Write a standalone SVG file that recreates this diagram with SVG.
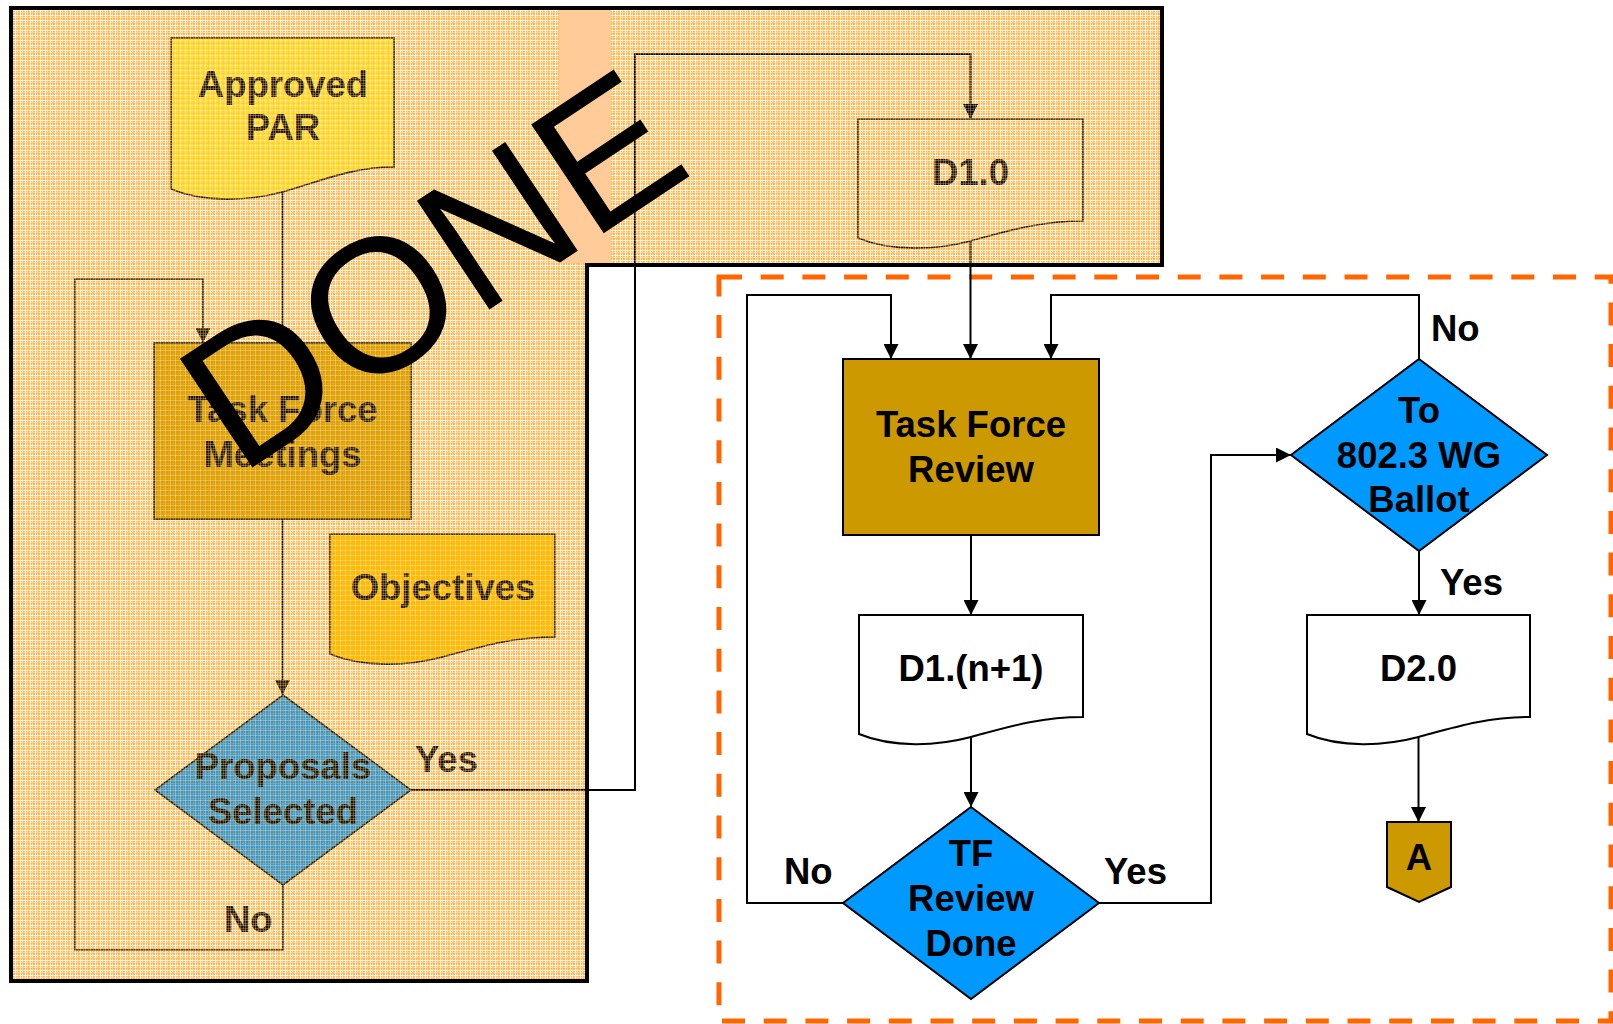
<svg xmlns="http://www.w3.org/2000/svg" width="1613" height="1024" viewBox="0 0 1613 1024">
<defs>
<style>
text{font-family:"Liberation Sans",Arial,sans-serif;font-weight:bold;font-size:36.5px;text-anchor:middle}
.lt{fill:#1f1400}
.rt{fill:#000}
.st{text-anchor:start}
.lc{fill:none;stroke:#2a1c00;stroke-width:1.6}
.rc{fill:none;stroke:#000;stroke-width:2}
.ln{stroke:#2a1c00;stroke-width:1.6}
.rn{stroke:#000;stroke-width:2}
.done{font-weight:normal;font-size:190px;text-anchor:start;fill:#000}
</style>
<pattern id="plaid" width="5" height="5" patternUnits="userSpaceOnUse">
<rect width="5" height="5" fill="#FFBB55"/>
<rect x="2" width="1" height="5" fill="#FFD9A0"/>
<rect y="2" width="5" height="1" fill="#FFD9A0"/>
<rect width="1" height="5" fill="#FFFFFF" opacity="0.8"/>
<rect width="5" height="1" fill="#FFFFFF" opacity="0.8"/>
</pattern>
<pattern id="veil" width="5" height="5" patternUnits="userSpaceOnUse">
<rect width="1" height="5" fill="#FFFFFF" opacity="0.3"/>
<rect width="5" height="1" fill="#FFFFFF" opacity="0.3"/>
<rect x="3" width="1" height="5" fill="#FFB347" opacity="0.3"/>
<rect y="3" width="5" height="1" fill="#FFB347" opacity="0.3"/>
</pattern>
<marker id="arr" viewBox="0 0 15 15" markerWidth="15" markerHeight="15" refX="15" refY="7.5" orient="auto" markerUnits="userSpaceOnUse"><path d="M0,0 L15,7.5 L0,15 Z" fill="#000"/></marker>
<marker id="arrl" viewBox="0 0 15 15" markerWidth="15" markerHeight="15" refX="15" refY="7.5" orient="auto" markerUnits="userSpaceOnUse"><path d="M0,0 L15,7.5 L0,15 Z" fill="#2a1c00"/></marker>
</defs>

<rect width="1613" height="1024" fill="#FFFFFF"/>

<!-- completed-phase panel background -->
<path id="panel-bg" d="M11,8 H1162 V265 H587 V981 H11 Z" fill="url(#plaid)"/>

<!-- dashed boundary of current phase -->
<rect id="current-phase" x="719" y="277" width="892" height="744" fill="none" stroke="#FF6600" stroke-width="5" stroke-dasharray="23 18.7"/>

<g id="connectors">
<path class="lc" d="M282.5,192 V343" marker-end="url(#arrl)"/>
<path class="lc" d="M282.5,519 V695" marker-end="url(#arrl)"/>
<path class="lc" d="M283,885 V950 H75 V279 H203 V343" marker-end="url(#arrl)"/>
<path class="rc" d="M411,790 H635 V54 H970.5 V119" marker-end="url(#arr)"/>
<path class="rc" d="M970.5,241 V359" marker-end="url(#arr)"/>
<path class="rc" d="M971,535 V615" marker-end="url(#arr)"/>
<path class="rc" d="M971,737 V807" marker-end="url(#arr)"/>
<path class="rc" d="M843,903 H747 V295 H891 V359" marker-end="url(#arr)"/>
<path class="rc" d="M1099,903 H1211 V455 H1291" marker-end="url(#arr)"/>
<path class="rc" d="M1419,359 V295 H1051 V359" marker-end="url(#arr)"/>
<path class="rc" d="M1419,551 V615" marker-end="url(#arr)"/>
<path class="rc" d="M1418.5,737 V822" marker-end="url(#arr)"/>
<text class="lt st" x="415" y="772">Yes</text>
<text class="lt st" x="224" y="932">No</text>
<text class="rt st" x="784" y="884">No</text>
<text class="rt st" x="1104" y="884">Yes</text>
<text class="rt st" x="1431" y="341">No</text>
<text class="rt st" x="1440" y="595">Yes</text>
</g>

<g id="approved-par">
<path class="ln" d="M171,38 H394 V167 C349.4,167 316,183 282.5,192 C249,201 204.5,203 171,189 Z" fill="#FFDD33"/>
<text class="lt" x="283" y="97">Approved</text>
<text class="lt" x="283" y="140">PAR</text>
</g>

<g id="tf-meetings">
<rect class="ln" x="154" y="343" width="257" height="176" fill="#DB9F00"/>
<text class="lt" x="282.5" y="422">Task Force</text>
<text class="lt" x="282.5" y="467">Meetings</text>
</g>

<g id="objectives">
<path class="ln" d="M330,534 H555 V637 C510,637 476.25,648 442.5,657 C408.75,666 363.75,668 330,654 Z" fill="#FFBB00"/>
<text class="lt" x="443" y="600">Objectives</text>
</g>

<g id="proposals-selected">
<path class="ln" d="M283,695 L411,790 L283,885 L155,790 Z" fill="#3A97C8"/>
<text class="lt" x="283" y="779">Proposals</text>
<text class="lt" x="283" y="824">Selected</text>
</g>

<g id="d1-0">
<path class="ln" d="M858,119 H1083 V221 C1038,221 1004.25,232 970.5,241 C936.75,250 891.75,252 858,238 Z" fill="none"/>
<text class="lt" x="970.5" y="185">D1.0</text>
</g>

<!-- texture veil over completed phase -->
<path id="panel-veil" d="M11,8 H1162 V265 H587 V981 H11 Z" fill="url(#veil)"/>
<rect id="peach-band" x="559" y="10" width="52" height="253" fill="#FFCC99"/>
<text id="done-stamp" class="done" transform="translate(239.5,476.3) rotate(-33.7)">DONE</text>
<path id="panel-frame" d="M11,8 H1162 V265 H587 V981 H11 Z" fill="none" stroke="#000" stroke-width="4"/>

<g id="tf-review">
<rect class="rn" x="843" y="359" width="256" height="176" fill="#CC9900"/>
<text class="rt" x="971" y="437">Task Force</text>
<text class="rt" x="971" y="482">Review</text>
</g>

<g id="d1-n1">
<path class="rn" d="M859,615 H1083 V717 C1038.2,717 1004.6,728 971,737 C937.4,746 892.6,748 859,734 Z" fill="#FFFFFF"/>
<text class="rt" x="971" y="681">D1.(n+1)</text>
</g>

<g id="tf-review-done">
<path class="rn" d="M971,807 L1099,903 L971,999 L843,903 Z" fill="#0099FF"/>
<text class="rt" x="971" y="866">TF</text>
<text class="rt" x="971" y="911">Review</text>
<text class="rt" x="971" y="956">Done</text>
</g>

<g id="wg-ballot">
<path class="rn" d="M1419,359 L1547,455 L1419,551 L1291,455 Z" fill="#0099FF"/>
<text class="rt" x="1419" y="423">To</text>
<text class="rt" x="1419" y="468">802.3 WG</text>
<text class="rt" x="1419" y="512">Ballot</text>
</g>

<g id="d2-0">
<path class="rn" d="M1307,615 H1530 V717 C1485.4,717 1452,728 1418.5,737 C1385,746 1340.5,748 1307,734 Z" fill="#FFFFFF"/>
<text class="rt" x="1418.5" y="681">D2.0</text>
</g>

<g id="offpage-a">
<path class="rn" d="M1387,822 H1451 V887 L1419,902 L1387,887 Z" fill="#CC9900"/>
<text class="rt" x="1419" y="870">A</text>
</g>
</svg>
